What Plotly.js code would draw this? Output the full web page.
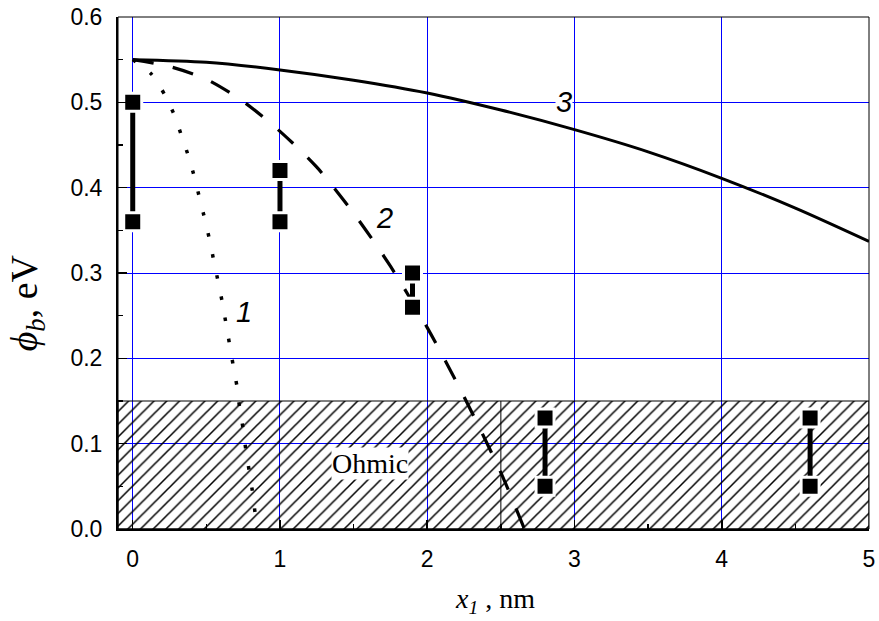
<!DOCTYPE html>
<html>
<head>
<meta charset="utf-8">
<script src="https://cdn.plot.ly/plotly-3.0.1.min.js"></script>
<style>html,body{margin:0;padding:0;background:#fff;}</style>
</head>
<body>
<div id="chart" style="width:879px;height:621px;"></div>
<script>
// Curve 1 (dotted)
const curve1X = [0, 0.127, 0.217, 0.285, 0.333, 0.38, 0.421, 0.455, 0.491, 0.523, 0.552, 0.581, 0.609, 0.634, 0.659, 0.683, 0.708, 0.726, 0.749, 0.767, 0.79, 0.812, 0.83];
const curve1Y = [0.55, 0.533, 0.509, 0.484, 0.46, 0.436, 0.411, 0.387, 0.362, 0.338, 0.313, 0.289, 0.265, 0.24, 0.215, 0.191, 0.167, 0.142, 0.118, 0.094, 0.069, 0.045, 0.02];
// Curve 2 (dashed)
const curve2X = [0, 0.25, 0.5, 0.75, 1.0, 1.25, 1.5, 1.75, 2.0, 2.25, 2.5, 2.66];
const curve2Y = [0.55, 0.542, 0.527, 0.501, 0.466, 0.424, 0.37, 0.308, 0.236, 0.155, 0.066, 0.0];
// Curve 3 (solid)
const curve3X = [0, 0.5, 1, 1.5, 2, 2.5, 3, 3.5, 4, 4.5, 5];
const curve3Y = [0.55, 0.547, 0.538, 0.526, 0.511, 0.491, 0.468, 0.442, 0.411, 0.376, 0.337];
// Experimental ranges (square markers joined by bars)
const barX = [0, 1, 1.9, 2.8, 4.6];
const barTop = [0.5, 0.42, 0.30, 0.13, 0.13];
const barBottom = [0.36, 0.36, 0.26, 0.05, 0.05];
// Ohmic region
const ohmicX = [-0.1, 5, 5, -0.1, -0.1];
const ohmicY = [0, 0, 0.15, 0.15, 0];
const dividerX = [2.5, 2.5];
const dividerY = [0, 0.15];
// Ticks
const xTicks = [0, 1, 2, 3, 4, 5];
const yTicks = [0.0, 0.1, 0.2, 0.3, 0.4, 0.5, 0.6];
const curveLabels = ['1', '2', '3'];
const curveLabelX = [0.755, 1.71, 2.93];
const curveLabelY = [0.254, 0.364, 0.50];

const bx = [], by = [];
barX.forEach((x, i) => { bx.push(x, x, null); by.push(barTop[i], barBottom[i], null); });

const traces = [
  {x: ohmicX, y: ohmicY, mode: 'lines', fill: 'toself', fillcolor: 'rgba(0,0,0,0)',
   fillpattern: {shape: '/', fgcolor: '#000', bgcolor: 'rgba(0,0,0,0)', size: 9, solidity: 0.17},
   line: {color: '#000', width: 1}, hoverinfo: 'skip'},
  {x: dividerX, y: dividerY, mode: 'lines', line: {color: '#000', width: 1}},
  {x: curve1X, y: curve1Y, mode: 'lines', line: {color: '#000', width: 3.5, dash: '3.5px,18px', shape: 'spline', smoothing: 0.6}},
  {x: curve2X, y: curve2Y, mode: 'lines', line: {color: '#000', width: 3.2, dash: '21px,20px', shape: 'spline', smoothing: 0.8}},
  {x: curve3X, y: curve3Y, mode: 'lines', line: {color: '#000', width: 3, shape: 'spline', smoothing: 0.8}},
  {x: bx, y: by, mode: 'lines+markers', connectgaps: false,
   line: {color: '#000', width: 5},
   marker: {symbol: 'square', size: 18, color: '#000', line: {color: '#fff', width: 3}}}
];

const annotations = curveLabels.map((t, i) => ({
  x: curveLabelX[i], y: curveLabelY[i], xref: 'x', yref: 'y', text: '<i>' + t + '</i>',
  xanchor: 'center', yanchor: 'middle',
  showarrow: false, font: {family: 'Arial, Liberation Sans', size: 29, color: '#000'},
  bgcolor: i === 2 ? '#fff' : 'rgba(0,0,0,0)', borderpad: 0
}));
annotations.push({x: 1.612, y: 0.077, xref: 'x', yref: 'y', text: 'Ohmic', showarrow: false,
  xanchor: 'center', yanchor: 'middle',
  font: {family: 'Liberation Serif, Times New Roman, serif', size: 28, color: '#000'}, bgcolor: '#fff', borderpad: 0});
annotations.push({x: -0.121, y: 0.441, xref: 'paper', yref: 'paper', textangle: -90,
  xanchor: 'center', yanchor: 'middle',
  text: '<i>ϕ</i><sub><i>b</i></sub>, eV', showarrow: false,
  font: {family: 'Liberation Serif, Times New Roman, serif', size: 38, color: '#000'}});
annotations.push({x: 0.502, y: -0.139, xref: 'paper', yref: 'paper',
  xanchor: 'center', yanchor: 'middle',
  text: '<i>x</i><sub><i>1</i></sub> , nm', showarrow: false,
  font: {family: 'Liberation Serif, Times New Roman, serif', size: 28, color: '#000'}});

const layout = {
  width: 879, height: 621,
  margin: {l: 118, r: 10, t: 17, b: 92},
  paper_bgcolor: '#fff', plot_bgcolor: '#fff',
  showlegend: false,
  xaxis: {range: [-0.1, 5], tickvals: xTicks, ticktext: xTicks.map(String),
    ticks: 'inside', ticklen: 9, tickwidth: 1.5, tickcolor: '#000',
    showline: true, linecolor: '#000', linewidth: 2, zeroline: false,
    showgrid: true, gridcolor: '#0000ff', gridwidth: 1,
    minor: {dtick: 0.5, tick0: 0, ticks: 'inside', ticklen: 5, tickwidth: 1.5, tickcolor: '#000', showgrid: false},
    ticklabelstandoff: 8,
    tickfont: {family: 'Arial, Liberation Sans', size: 23, color: '#000'}},
  yaxis: {range: [0, 0.6], tickvals: yTicks, ticktext: yTicks.map(v => v.toFixed(1)),
    ticks: 'inside', ticklen: 9, tickwidth: 1.5, tickcolor: '#000',
    showline: true, linecolor: '#000', linewidth: 2, zeroline: false,
    showgrid: true, gridcolor: '#0000ff', gridwidth: 1,
    minor: {dtick: 0.05, tick0: 0, ticks: 'inside', ticklen: 5, tickwidth: 1.5, tickcolor: '#000', showgrid: false},
    ticklabelstandoff: 9,
    tickfont: {family: 'Arial, Liberation Sans', size: 23, color: '#000'}},
  shapes: [{type: 'rect', xref: 'paper', yref: 'paper', x0: 0, x1: 1, y0: 0, y1: 1,
    line: {color: '#000', width: 1}}],
  annotations: annotations
};

Plotly.newPlot('chart', traces, layout, {displayModeBar: false, staticPlot: true});
</script>
</body>
</html>
